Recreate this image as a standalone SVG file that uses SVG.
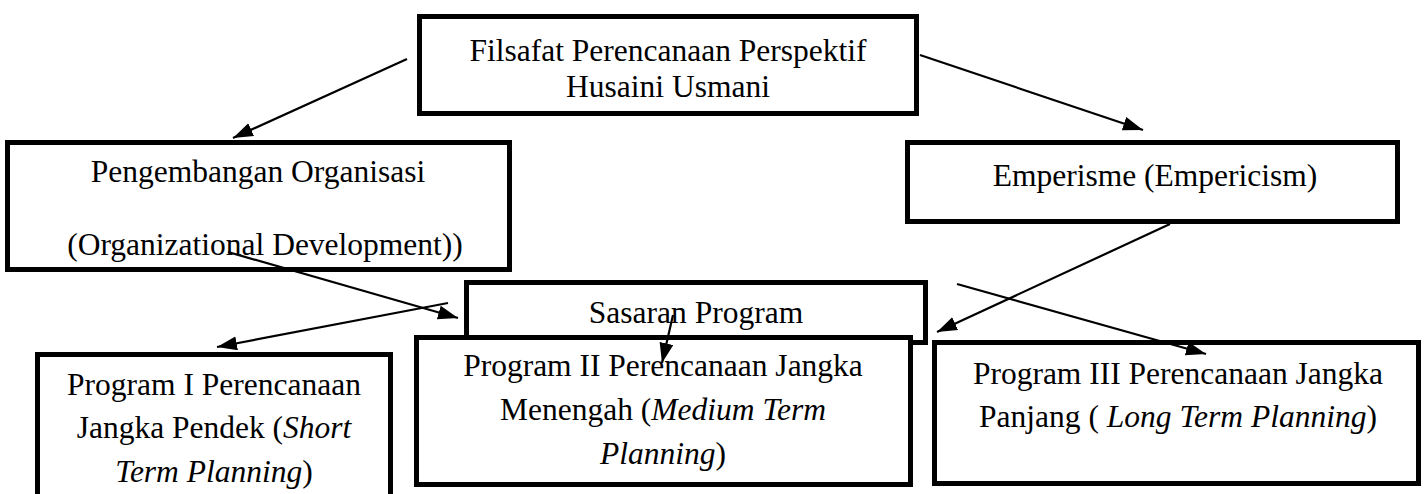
<svg xmlns="http://www.w3.org/2000/svg" width="1427" height="494" viewBox="0 0 1427 494">
<style>
.box{fill:#fff;stroke:#000;stroke-width:5}
.t{font-family:"Liberation Serif","Times New Roman",serif;font-size:31.5px;fill:#000;text-anchor:middle}
.i{font-style:italic}
.c{stroke:#000;stroke-width:2.2;fill:none;marker-end:url(#ah)}
</style>
<defs>
<marker id="ah" markerUnits="userSpaceOnUse" markerWidth="22" markerHeight="16" refX="20" refY="7" orient="auto">
<path d="M0,0 L20,7 L0,14 z" fill="#000"/>
</marker>
</defs>
<rect width="1427" height="494" fill="#fff"/>
<g id="node-filsafat">
<rect class="box" x="419.5" y="16.5" width="497" height="97"/>
<text class="t" x="668" y="61">Filsafat Perencanaan Perspektif</text>
<text class="t" x="668" y="97">Husaini Usmani</text>
</g>
<g id="node-pengembangan">
<rect class="box" x="7.5" y="142.5" width="502" height="127"/>
<text class="t" x="258" y="182">Pengembangan Organisasi</text>
<text class="t" x="265" y="255" font-size="34.5">(Organizational Development))</text>
</g>
<g id="node-emperisme">
<rect class="box" x="907.5" y="142.5" width="490" height="79"/>
<text class="t" x="1155" y="186">Emperisme (Empericism)</text>
</g>
<g id="node-sasaran">
<rect class="box" x="466.5" y="282.5" width="459" height="60"/>
<text class="t" x="696" y="323">Sasaran Program</text>
</g>
<g id="node-program1">
<rect class="box" x="37.5" y="354.5" width="353" height="170"/>
<text class="t" x="214" y="395">Program I Perencanaan</text>
<text class="t" x="214" y="438">Jangka Pendek (<tspan class="i">Short</tspan></text>
<text class="t" x="214" y="482"><tspan class="i">Term Planning</tspan>)</text>
</g>
<g id="node-program2">
<rect class="box" x="416.5" y="337.5" width="494" height="147"/>
<text class="t" x="663" y="376">Program II Perencanaan Jangka</text>
<text class="t" x="663" y="420">Menengah (<tspan class="i">Medium Term</tspan></text>
<text class="t" x="663" y="464"><tspan class="i">Planning</tspan>)</text>
</g>
<g id="node-program3">
<rect class="box" x="934.5" y="342.5" width="484" height="141"/>
<text class="t" x="1178" y="384">Program III Perencanaan Jangka</text>
<text class="t" x="1178" y="427">Panjang ( <tspan class="i">Long Term Planning</tspan>)</text>
</g>
<g id="connectors">
<line class="c" x1="407" y1="59" x2="233" y2="138"/>
<line class="c" x1="920" y1="55" x2="1143" y2="130"/>
<line class="c" x1="228" y1="252" x2="458" y2="318"/>
<line class="c" x1="448" y1="303" x2="217" y2="347"/>
<line class="c" x1="1170" y1="224" x2="937" y2="332"/>
<line class="c" x1="957" y1="284" x2="1206" y2="354"/>
<line class="c" x1="673" y1="315" x2="662" y2="363"/>
</g>
</svg>
